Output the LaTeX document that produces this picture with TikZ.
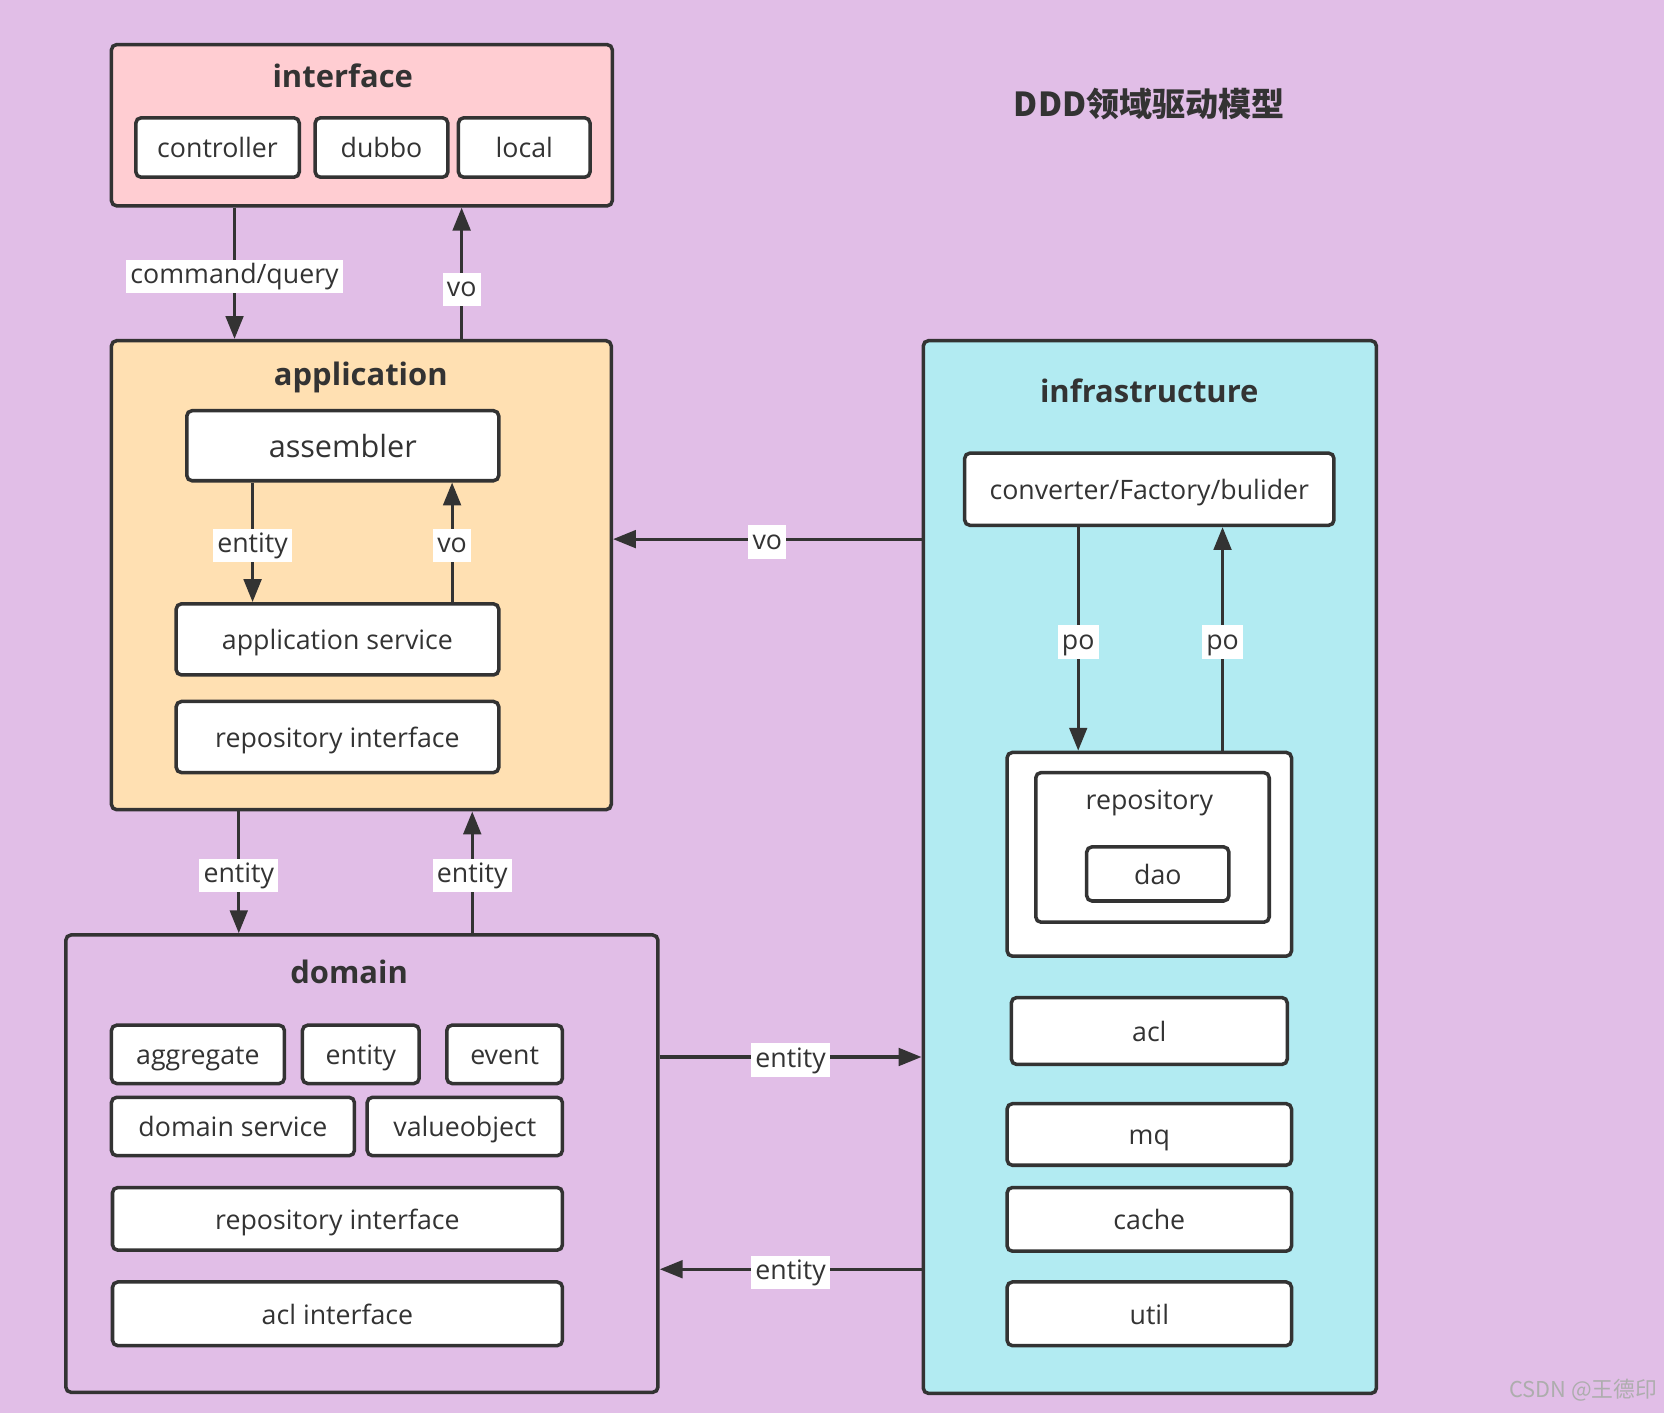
\documentclass[tikz,border=0pt]{standalone}
\usepackage{fontspec}
\setmainfont{Open Sans}
\newfontfamily\cjkfont{Noto Sans CJK SC}
\usetikzlibrary{arrows.meta,positioning}
\definecolor{bgpurple}{HTML}{E1BEE7}
\definecolor{pinkfill}{HTML}{FFCDD2}
\definecolor{orangefill}{HTML}{FFE0B2}
\definecolor{cyanfill}{HTML}{B2EBF2}
\definecolor{ink}{HTML}{333333}
\newlength\pxu \setlength\pxu{0.010612cm}
\tikzset{
  layer/.style={draw=ink, line width=1pt, rounded corners=1.5pt, inner sep=0pt},
  item/.style={draw=ink, fill=white, line width=1pt, rounded corners=1.5pt, inner sep=0pt,
    text=ink, text height=6.4pt, text depth=0.6pt, font=\fontsize{7.6}{9}\selectfont},
  layertitle/.style={text=ink, text height=7.6pt, text depth=0.6pt, font=\fontsize{8.8}{10}\selectfont\bfseries},
  flow/.style={draw=ink, line width=0.9pt, -{Triangle[length=6.5pt,width=5pt]}},
  tag/.style={fill=white, text=ink, inner sep=1.2pt, text height=5.6pt, text depth=1.6pt,
    yshift=-0.9pt, font=\fontsize{7.6}{9}\selectfont}
}
\begin{document}
\begin{tikzpicture}[x=\pxu,y=-\pxu]
  \fill[bgpurple] (0,0) rectangle (1568,1331);
  \useasboundingbox (0,0) rectangle (1568,1331);
  % layers
  \node[layer, fill=pinkfill, minimum width=472\pxu, minimum height=152\pxu] (iface) at (341,118) {};
  \node[layer, fill=orangefill, minimum width=471\pxu, minimum height=442\pxu] (app) at (340.5,542) {};
  \node[layer, fill=bgpurple, minimum width=558\pxu, minimum height=431\pxu] (dom) at (341,1096.5) {};
  \node[layer, fill=cyanfill, minimum width=427\pxu, minimum height=992\pxu] (infra) at (1083.5,817) {};
  \node[layertitle] (ifacet) at (323,71) {interface};
  \node[layertitle] (appt) at (340,352) {application};
  \node[layertitle] (domt) at (329,915) {domain};
  \node[layertitle] (infrat) at (1083,368) {infrastructure};
  \node[text=ink, font=\cjkfont\fontsize{9.4}{11}\selectfont\bfseries] (title) at (1083,98) {DDD领域驱动模型};
  % interface
  \node[item, minimum width=154\pxu, minimum height=56\pxu] (ctrl) at (205,139) {controller};
  \node[item, minimum width=125\pxu, minimum height=56\pxu] (dubbo) at (359.5,139) {dubbo};
  \node[item, minimum width=124\pxu, minimum height=56\pxu] (local) at (494,139) {local};
  % application
  \node[item, minimum width=294\pxu, minimum height=66\pxu, text height=7.4pt, text depth=0.6pt,
    font=\fontsize{8.7}{10}\selectfont] (asm) at (323,420) {assembler};
  \node[item, minimum width=304\pxu, minimum height=67\pxu] (appsvc) at (318,602.5) {application service};
  \node[item, minimum width=304\pxu, minimum height=67\pxu] (apprepo) at (318,694.5) {repository interface};
  % domain
  \node[item, minimum width=163\pxu, minimum height=55\pxu] (aggr) at (186.5,993.5) {aggregate};
  \node[item, minimum width=110\pxu, minimum height=55\pxu] (ent) at (340,993.5) {entity};
  \node[item, minimum width=109\pxu, minimum height=55\pxu] (evt) at (475.5,993.5) {event};
  \node[item, minimum width=229\pxu, minimum height=55\pxu] (domsvc) at (219.5,1061.5) {domain service};
  \node[item, minimum width=184\pxu, minimum height=55\pxu] (vobj) at (438,1061.5) {valueobject};
  \node[item, minimum width=424\pxu, minimum height=59\pxu] (domrepo) at (318,1148.5) {repository interface};
  \node[item, minimum width=424\pxu, minimum height=60\pxu] (aclif) at (318,1238) {acl interface};
  % infrastructure
  \node[item, minimum width=348\pxu, minimum height=68\pxu] (conv) at (1083,461) {converter/Factory/bulider};
  \node[item, minimum width=268\pxu, minimum height=192\pxu] (repobox) at (1083,805) {};
  \node[item, minimum width=220\pxu, minimum height=141\pxu] (repo) at (1086,798.5) {};
  \node[text=ink, text height=6.4pt, text depth=0.6pt, font=\fontsize{7.6}{9}\selectfont] (repot) at (1083,753) {repository};
  \node[item, minimum width=134\pxu, minimum height=51\pxu] (dao) at (1091,823.5) {dao};
  \node[item, minimum width=260\pxu, minimum height=63\pxu] (acl) at (1083,971.5) {acl};
  \node[item, minimum width=268\pxu, minimum height=58\pxu] (mq) at (1083,1069) {mq};
  \node[item, minimum width=268\pxu, minimum height=60\pxu] (cache) at (1083,1149) {cache};
  \node[item, minimum width=268\pxu, minimum height=60\pxu] (util) at (1083,1238) {util};
  % connectors
  \draw[flow] (iface.south -| 221,0) -- node[tag]{command/query} (app.north -| 221,0);
  \draw[flow] (app.north -| 435,0) -- node[tag, pos=0.4]{vo} (iface.south -| 435,0);
  \draw[flow] (asm.south -| 238,0) -- node[tag]{entity} (appsvc.north -| 238,0);
  \draw[flow] (appsvc.north -| 426,0) -- node[tag]{vo} (asm.south -| 426,0);
  \draw[flow] (app.south -| 225,0) -- node[tag]{entity} (dom.north -| 225,0);
  \draw[flow] (dom.north -| 445,0) -- node[tag]{entity} (app.south -| 445,0);
  \draw[flow] (infra.west |- 0,508) -- node[tag]{vo} (app.east |- 0,508);
  \draw[flow] (dom.east |- 0,996) -- node[tag]{entity} (infra.west |- 0,996);
  \draw[flow] (infra.west |- 0,1196) -- node[tag]{entity} (dom.east |- 0,1196);
  \draw[flow] (conv.south -| 1016,0) -- node[tag]{po} (repobox.north -| 1016,0);
  \draw[flow] (repobox.north -| 1152,0) -- node[tag]{po} (conv.south -| 1152,0);
  \node[text=white!60!ink, font=\cjkfont\fontsize{6.2}{7}\selectfont] (mark) at (1492,1310) {CSDN @王德印};
\end{tikzpicture}
\end{document}
